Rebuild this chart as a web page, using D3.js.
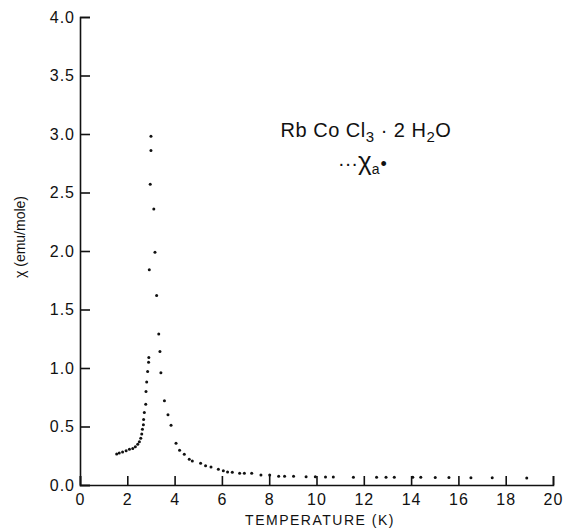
<meta charset="UTF-8">
<head>
  <script src="https://d3js.org/d3.v7.min.js"></script>
  <style>
    body { margin: 0; background: #fff; }
    text { font-family: "Liberation Sans", sans-serif; fill: #111; }
  </style>
</head>
<body>
  <svg id="svg" width="564" height="529"></svg>
  <script>
    // temperature (K) and chi_a (emu/mole)
    const temps = [1.55, 1.66, 1.80, 1.95, 2.09, 2.23, 2.34, 2.44, 2.51, 2.57,
      2.61, 2.64, 2.68, 2.69, 2.72, 2.78, 2.79, 2.82, 2.86, 2.90, 2.91, 2.93,
      2.97, 3.00, 3.00, 3.12, 3.17, 3.24, 3.33, 3.38, 3.42, 3.57, 3.72, 3.85,
      4.06, 4.21, 4.41, 4.62, 4.75, 5.10, 5.31, 5.54, 5.85, 6.06, 6.24, 6.44,
      6.75, 6.95, 7.26, 7.65, 8.02, 8.40, 8.65, 9.03, 9.56, 9.95, 10.38, 10.71,
      11.56, 12.54, 12.94, 13.29, 14.07, 14.41, 15.02, 15.60, 16.53, 17.43, 18.89];
    const chi = [0.265, 0.273, 0.282, 0.293, 0.305, 0.313, 0.327, 0.348, 0.37, 0.40,
      0.436, 0.476, 0.515, 0.56, 0.62, 0.69, 0.80, 0.88, 0.97, 1.05, 1.09, 1.84,
      2.57, 2.98, 2.86, 2.36, 1.99, 1.62, 1.29, 1.14, 0.96, 0.72, 0.60, 0.51,
      0.356, 0.296, 0.262, 0.22, 0.205, 0.185, 0.165, 0.154, 0.134, 0.122, 0.111, 0.108,
      0.10, 0.10, 0.10, 0.085, 0.085, 0.074, 0.074, 0.074, 0.071, 0.07, 0.068, 0.068,
      0.066, 0.066, 0.066, 0.066, 0.066, 0.066, 0.064, 0.064, 0.062, 0.062, 0.06];
    const xTicks = [0, 2, 4, 6, 8, 10, 12, 14, 16, 18, 20];
    const yTicks = [0, 0.5, 1, 1.5, 2, 2.5, 3, 3.5, 4];

    const svg = d3.select("#svg");
    const x = d3.scaleLinear().domain([0, 20]).range([80, 553]);
    const y = d3.scaleLinear().domain([0, 4]).range([485, 17]);

    // axes, ticks pointing inward
    const gx = svg.append("g").attr("transform", "translate(0,485)")
      .call(d3.axisBottom(x).tickValues(xTicks).tickSize(-9).tickPadding(6).tickFormat(d3.format("d")));
    const gy = svg.append("g").attr("transform", "translate(80,0)")
      .call(d3.axisLeft(y).tickValues(yTicks).tickSize(-10).tickPadding(5).tickFormat(d3.format(".1f")));
    [gx, gy].forEach(g => {
      g.select(".domain").attr("stroke", "#111").attr("stroke-width", 1.6);
      g.selectAll(".tick line").attr("stroke", "#111").attr("stroke-width", 1.6);
      g.selectAll(".tick text").style("font-size", "16px").style("letter-spacing", "1px").attr("fill", "#111");
    });
    gx.selectAll(".tick text").attr("dy", "0.85em");

    svg.append("g").selectAll("circle").data(temps).enter()
      .append("circle")
      .attr("cx", (d, i) => x(d))
      .attr("cy", (d, i) => y(chi[i]))
      .attr("r", 1.5)
      .attr("fill", "#111");

    svg.append("text").attr("x", 320).attr("y", 525).attr("text-anchor", "middle")
      .style("font-size", "14px").style("letter-spacing", "1.5px").text("TEMPERATURE (K)");

    svg.append("text").attr("transform", "translate(25,237) rotate(-90)").attr("text-anchor", "middle")
      .style("font-size", "14px").text("χ (emu/mole)");

    const t1 = svg.append("text").attr("x", 366).attr("y", 137).attr("text-anchor", "middle")
      .style("font-size", "20px").style("letter-spacing", "0.5px");
    t1.append("tspan").text("Rb Co Cl");
    t1.append("tspan").attr("dy", 5).style("font-size", "15px").text("3");
    t1.append("tspan").attr("dy", -5).text(" · 2 H");
    t1.append("tspan").attr("dy", 5).style("font-size", "15px").text("2");
    t1.append("tspan").attr("dy", -5).text("O");

    const t2 = svg.append("text").attr("x", 338).attr("y", 170).style("font-size", "20px");
    t2.append("tspan").text("···");
    t2.append("tspan").style("font-size", "26px").text("χ");
    t2.append("tspan").attr("dy", 4).style("font-size", "14px").text("a");
    t2.append("tspan").attr("dy", -4).attr("dx", 1).style("font-size", "18px").text("•");
  </script>
</body>
